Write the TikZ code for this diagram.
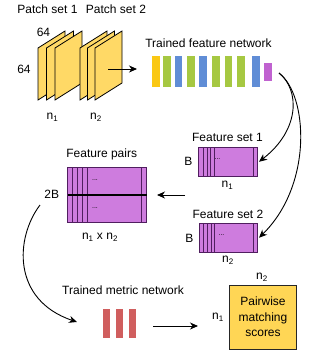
\documentclass[tikz,border=0pt]{standalone}
\usepackage{fontspec}
\setmainfont{Liberation Sans}
\usetikzlibrary{arrows.meta,calc}

\definecolor{sheetfill}{RGB}{255,217,102}
\definecolor{scorefill}{RGB}{255,214,85}
\definecolor{netyellow}{RGB}{250,200,20}
\definecolor{netgreen}{RGB}{166,200,66}
\definecolor{netblue}{RGB}{96,141,214}
\definecolor{netpurple}{RGB}{192,98,208}
\definecolor{featfill}{RGB}{206,124,222}
\definecolor{featline}{RGB}{80,30,95}
\definecolor{metricred}{RGB}{208,94,94}

\begin{document}
\begin{tikzpicture}[x=1pt,y=1pt,
  lbl/.style={font=\fontsize{12}{14}\selectfont, inner sep=0pt},
  dots/.style={font=\fontsize{7}{7}\selectfont, inner sep=0pt},
  conn/.style={line width=0.9pt, -{Stealth[length=8pt,width=7pt,inset=2.5pt]}},
  sheet/.style={fill=sheetfill, draw=black, line width=0.8pt, line join=miter},
  netbar/.style={rectangle, draw=none, inner sep=0pt, outer sep=0pt,
    minimum width=7.5pt, minimum height=31.5pt, anchor=north west},
  featbox/.style={rectangle, draw=featline, fill=featfill, line width=0.8pt,
    inner sep=0pt, outer sep=0pt},
  featthin/.style={draw=featline, line width=0.5pt},
  redbar/.style={rectangle, fill=metricred, draw=none, inner sep=0pt, outer sep=0pt,
    minimum width=6.7pt, minimum height=29pt, anchor=north west},
  scorebox/.style={rectangle, fill=scorefill, draw=black!85, line width=0.8pt,
    inner sep=0pt, outer sep=0pt, minimum width=67.4pt, minimum height=64.3pt,
    align=center, font=\fontsize{12}{15.5}\selectfont}
]
\fill[white] (0,0) rectangle (320,-357);
\useasboundingbox (0,0) rectangle (320,-357);

% ---- patch sets (stacked 64x64 sheets) ----
\foreach \px in {38,46.5,55,80,87.5,95}
  \draw[sheet] (\px,-100) -- (\px,-48) -- (\px+27,-31) -- (\px+27,-83) -- cycle;

\node[lbl] (ps1) at (47.5,-9.5) {Patch set 1};
\node[lbl] (ps2) at (116,-9.5) {Patch set 2};
\node[lbl] (sz1) at (43.5,-32) {64};
\node[lbl] (sz2) at (24,-69) {64};
\node[lbl] (pn1) at (52.5,-117) {n\textsubscript{1}};
\node[lbl] (pn2) at (96,-117) {n\textsubscript{2}};

\coordinate (patchout) at (108,-69);
\coordinate (netin) at (137,-69);
\draw[conn] (patchout) -- (netin);

% ---- trained feature network ----
\node[lbl] (fnet) at (208.5,-43) {Trained feature network};
\foreach \bx/\bc [count=\i] in {152/netyellow,163/netgreen,174.5/netblue,187/netgreen,
    199/netblue,212/netgreen,224.5/netgreen,237/netgreen,252/netblue}
  \node[netbar, fill=\bc] (fb\i) at (\bx,-55.5) {};
\node[netbar, fill=netpurple, minimum width=8pt, minimum height=18pt] (fbout) at (264.3,-62.5) {};

% ---- feature sets ----
\node[featbox, minimum width=58.5pt, minimum height=28.5pt] (fs1) at (227.75,-161.75) {};
\node[featbox, minimum width=58pt, minimum height=28.5pt] (fs2) at (228,-237.75) {};
\foreach \f in {fs1,fs2}{
  \foreach \d in {4.3,8.3,12,15.3}
    \draw[featthin] ($(\f.north west)+(\d,0)$) -- ($(\f.south west)+(\d,0)$);
  \draw[featthin] ($(\f.north east)+(-3.7,0)$) -- ($(\f.south east)+(-3.7,0)$);
}
\node[dots] (fs1dots) at (217.5,-159.5) {...};
\node[dots] (fs2dots) at (221.5,-235.5) {...};

\node[lbl] (fs1lbl) at (227.5,-137) {Feature set 1};
\node[lbl] (fs1b) at (188.5,-161.5) {B};
\node[lbl] (fs1n) at (227.5,-185) {n\textsubscript{1}};
\node[lbl] (fs2lbl) at (228,-214) {Feature set 2};
\node[lbl] (fs2b) at (189.5,-238) {B};
\node[lbl] (fs2n) at (228,-260.5) {n\textsubscript{2}};

\coordinate (fstart) at (279,-73);
\draw[conn] (fstart) .. controls (300,-90) and (300,-130) .. ($(fs1.east)+(2,0)$);
\draw[conn] (fstart) .. controls (308,-95) and (313,-185) .. ($(fs2.east)+(2,0)$);

% ---- feature pairs ----
\node[featbox, minimum width=79.2pt, minimum height=27.5pt] (pairtop) at (107.1,-181.25) {};
\node[featbox, minimum width=79.2pt, minimum height=27.7pt] (pairbot) at (107.1,-208.85) {};
\foreach \f in {pairtop,pairbot}{
  \foreach \d in {5,9.7,14.7,19.7}
    \draw[featthin] ($(\f.north west)+(\d,0)$) -- ($(\f.south west)+(\d,0)$);
  \draw[featthin] ($(\f.north east)+(-5,0)$) -- ($(\f.south east)+(-5,0)$);
}
\draw[black, line width=1.1pt] (pairtop.south west) -- (pairtop.south east);
\node[dots] (ptdots) at (95,-180.5) {...};
\node[dots] (pbdots) at (95,-208) {...};

\node[lbl] (pairlbl) at (101.7,-154) {Feature pairs};
\node[lbl] (pair2b) at (51.7,-194.3) {2B};
\node[lbl] (pairn) at (100,-237) {n\textsubscript{1} x n\textsubscript{2}};

\coordinate (setsout) at (185,-195);
\coordinate (pairsin) at (157,-195);
\draw[conn] (setsout) -- (pairsin);

% ---- trained metric network ----
\node[lbl] (mnet) at (123,-290) {Trained metric network};
\node[redbar] (mb1) at (103.3,-309) {};
\node[redbar] (mb2) at (116,-309) {};
\node[redbar] (mb3) at (129.3,-309) {};

\coordinate (pairsout) at (40,-205);
\coordinate (metricin) at (77,-322);
\draw[conn] (pairsout) .. controls (15,-238) and (12,-300) .. (metricin);

% ---- pairwise matching scores ----
\node[scorebox] (scores) at (263,-317.15) {Pairwise\\matching\\scores};
\node[lbl] (sn2) at (262,-277) {n\textsubscript{2}};
\node[lbl] (sn1) at (218,-317) {n\textsubscript{1}};

\coordinate (metricout) at (153,-326);
\coordinate (scoresin) at (198,-326);
\draw[conn] (metricout) -- (scoresin);
\end{tikzpicture}
\end{document}
